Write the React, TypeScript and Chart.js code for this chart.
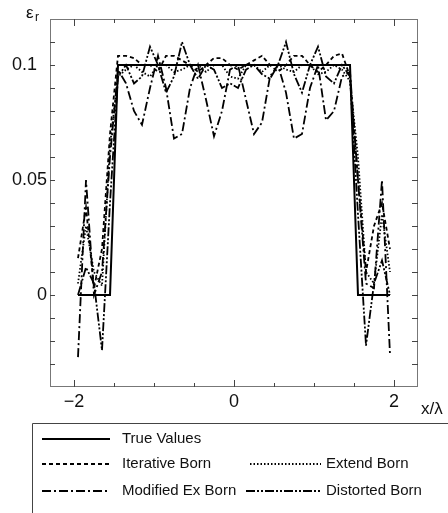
import React, { useEffect, useRef } from "react";
import { Chart, registerables } from "chart.js";

Chart.register(...registerables);

// ---------- data ----------
const xGrid = [
  -1.95, -1.85, -1.75, -1.65, -1.55, -1.45, -1.35, -1.25, -1.15, -1.05,
  -0.95, -0.85, -0.75, -0.65, -0.55, -0.45, -0.35, -0.25, -0.15, -0.05,
  0.05, 0.15, 0.25, 0.35, 0.45, 0.55, 0.65, 0.75, 0.85, 0.95,
  1.05, 1.15, 1.25, 1.35, 1.45, 1.55, 1.65, 1.75, 1.85, 1.95,
];

const trueX = [-1.95, -1.55, -1.45, 1.45, 1.55, 1.95];
const trueValues = [0, 0, 0.1, 0.1, 0, 0];

const iterativeBorn = [
  0.016, 0.038, 0.003, 0.02, 0.07, 0.104, 0.104, 0.103, 0.1, 0.1,
  0.097, 0.104, 0.104, 0.102, 0.1, 0.097, 0.1, 0.103, 0.103, 0.1,
  0.098, 0.1, 0.102, 0.104, 0.1, 0.097, 0.1, 0.104, 0.104, 0.1,
  0.097, 0.1, 0.104, 0.105, 0.095, 0.05, 0.01, 0.03, 0.04, 0.02,
];

const extendBorn = [
  0.005, 0.03, 0.01, 0.004, 0.065, 0.095, 0.098, 0.1, 0.097, 0.095,
  0.1, 0.1, 0.097, 0.098, 0.1, 0.1, 0.097, 0.1, 0.1, 0.095,
  0.094, 0.1, 0.1, 0.097, 0.1, 0.1, 0.098, 0.097, 0.1, 0.1,
  0.096, 0.097, 0.1, 0.098, 0.093, 0.06, 0.01, 0.005, 0.035, 0.01,
];

const modifiedExBorn = [
  -0.027, 0.05, 0.0, 0.01, 0.06, 0.098, 0.092, 0.08, 0.074, 0.09,
  0.104, 0.09, 0.068, 0.07, 0.09, 0.1, 0.085, 0.069, 0.08, 0.098,
  0.1, 0.085, 0.07, 0.075, 0.095, 0.1, 0.088, 0.068, 0.07, 0.09,
  0.1, 0.076, 0.08, 0.095, 0.097, 0.05, 0.005, 0.003, 0.05, -0.026,
];

const distortedBorn = [
  0.0, 0.012, 0.005, -0.024, 0.04, 0.095, 0.1, 0.092, 0.095, 0.108,
  0.1, 0.088, 0.095, 0.11, 0.1, 0.094, 0.1, 0.098, 0.09, 0.092,
  0.09, 0.098, 0.1, 0.096, 0.094, 0.1, 0.11, 0.096, 0.088, 0.1,
  0.108, 0.095, 0.092, 0.1, 0.095, 0.035, -0.022, 0.005, 0.015, 0.0,
];

const seriesNames = ["True Values", "Iterative Born", "Extend Born", "Modified Ex Born", "Distorted Born"];
const xLabelValues = [-2, 0, 2];
const yLabelValues = [0, 0.05, 0.1];
const xTickValues = [-2, -1.5, -1, -0.5, 0, 0.5, 1, 1.5, 2];
const yTickValues = [-0.03, -0.02, -0.01, 0, 0.01, 0.02, 0.03, 0.04, 0.05, 0.06, 0.07, 0.08, 0.09, 0.1, 0.11];

const toPoints = (xs: number[], ys: number[]) => ys.map((y, i) => ({ x: xs[i], y }));

const FONT = "'Liberation Sans', Arial, Helvetica, sans-serif";

const dashes: number[][] = [[], [4, 3], [1.5, 2], [9, 3, 2, 3], [9, 2, 2, 2, 2, 2]];

const decorPlugin = {
  id: "decor",
  afterDraw(chart: any) {
    const ctx = chart.ctx;
    const { left, right, top, bottom } = chart.chartArea;
    const xs = chart.scales.x;
    const ys = chart.scales.y;
    ctx.save();
    // frame
    ctx.strokeStyle = "#777";
    ctx.lineWidth = 1;
    ctx.setLineDash([]);
    ctx.strokeRect(left + 0.5, top + 0.5, right - left - 1, bottom - top - 1);
    // ticks
    ctx.strokeStyle = "#444";
    ctx.beginPath();
    xTickValues.forEach((v) => {
      const px = Math.round(xs.getPixelForValue(v)) + 0.5;
      const major = xLabelValues.some((l) => Math.abs(l - v) < 1e-9);
      const len = major ? 7 : 4;
      ctx.moveTo(px, bottom);
      ctx.lineTo(px, bottom - len);
      ctx.moveTo(px, top);
      ctx.lineTo(px, top + len);
    });
    yTickValues.forEach((v) => {
      const py = Math.round(ys.getPixelForValue(v)) + 0.5;
      ctx.moveTo(left, py);
      ctx.lineTo(left + 5, py);
      ctx.moveTo(right, py);
      ctx.lineTo(right - 6, py);
    });
    ctx.stroke();

    // axis titles
    ctx.fillStyle = "#111";
    ctx.textBaseline = "alphabetic";
    ctx.textAlign = "left";
    ctx.font = `17px ${FONT}`;
    ctx.fillText("ε", 26, 18);
    ctx.font = `12px ${FONT}`;
    ctx.fillText("r", 35, 21);
    ctx.font = `17px ${FONT}`;
    ctx.fillText("x/λ", 421, 414);

    // legend
    const lx = 32, ly = 423;
    ctx.strokeStyle = "#444";
    ctx.lineWidth = 1;
    ctx.beginPath();
    ctx.moveTo(lx + 0.5, chart.height + 5);
    ctx.lineTo(lx + 0.5, ly + 0.5);
    ctx.lineTo(chart.width + 5, ly + 0.5);
    ctx.stroke();

    const entries = [
      { i: 0, x1: 42, x2: 110, tx: 122, y: 439 },
      { i: 1, x1: 42, x2: 110, tx: 122, y: 464 },
      { i: 2, x1: 250, x2: 321, tx: 326, y: 464 },
      { i: 3, x1: 42, x2: 110, tx: 122, y: 491 },
      { i: 4, x1: 246, x2: 321, tx: 326, y: 491 },
    ];
    ctx.font = `15px ${FONT}`;
    ctx.textBaseline = "middle";
    entries.forEach((e) => {
      ctx.strokeStyle = "#000";
      ctx.lineWidth = e.i === 0 ? 2 : 1.8;
      ctx.setLineDash(dashes[e.i]);
      ctx.beginPath();
      ctx.moveTo(e.x1, e.y);
      ctx.lineTo(e.x2, e.y);
      ctx.stroke();
      ctx.setLineDash([]);
      ctx.fillStyle = "#111";
      ctx.fillText(seriesNames[e.i], e.tx, e.y);
    });
    ctx.restore();
  },
};

export default function App() {
  const ref = useRef<HTMLCanvasElement>(null);
  useEffect(() => {
    if (!ref.current) return;
    const seriesData = [
      toPoints(trueX, trueValues),
      toPoints(xGrid, iterativeBorn),
      toPoints(xGrid, extendBorn),
      toPoints(xGrid, modifiedExBorn),
      toPoints(xGrid, distortedBorn),
    ];
    const chart = new Chart(ref.current, {
      type: "line",
      data: {
        datasets: seriesData.map((d, i) => ({
          label: seriesNames[i],
          data: d,
          borderColor: "#000",
          borderWidth: i === 0 ? 2 : 1.8,
          borderDash: dashes[i],
          pointRadius: 0,
          fill: false,
          tension: 0,
        })),
      },
      options: {
        animation: false,
        responsive: false,
        devicePixelRatio: 1,
        layout: { padding: { top: 19, right: 30, bottom: 96, left: 0 } },
        plugins: { legend: { display: false }, tooltip: { enabled: false } },
        scales: {
          x: {
            type: "linear",
            min: -2.3,
            max: 2.3,
            grid: { display: false, drawTicks: false },
            border: { display: false },
            afterFit: (s: any) => { s.height = 30; },
            afterBuildTicks: (s: any) => { s.ticks = xLabelValues.map((v) => ({ value: v })); },
            ticks: {
              padding: 4,
              maxRotation: 0,
              autoSkip: false,
              color: "#111",
              font: { family: FONT, size: 18 },
              callback: (v: any) => {
                const n = Number(v);
                return n < 0 ? "\u2212" + Math.abs(n) : String(n);
              },
            },
          },
          y: {
            type: "linear",
            min: -0.04,
            max: 0.12,
            grid: { display: false, drawTicks: false },
            border: { display: false },
            afterFit: (s: any) => { s.width = 50; },
            afterBuildTicks: (s: any) => { s.ticks = yLabelValues.map((v) => ({ value: v })); },
            ticks: {
              padding: 3,
              autoSkip: false,
              color: "#111",
              font: { family: FONT, size: 18 },
              callback: (v: any) => {
                const n = Number(v);
                if (Math.abs(n - 0.1) < 1e-9) return "0.1  ";
                return String(n);
              },
            },
          },
        },
      },
      plugins: [decorPlugin],
    } as any);
    return () => chart.destroy();
  }, []);
  return (
    <div style={{ position: "fixed", left: 0, top: 0, width: 448, height: 513, background: "#fff" }}>
      <canvas ref={ref} width={448} height={513} style={{ display: "block" }} />
    </div>
  );
}
